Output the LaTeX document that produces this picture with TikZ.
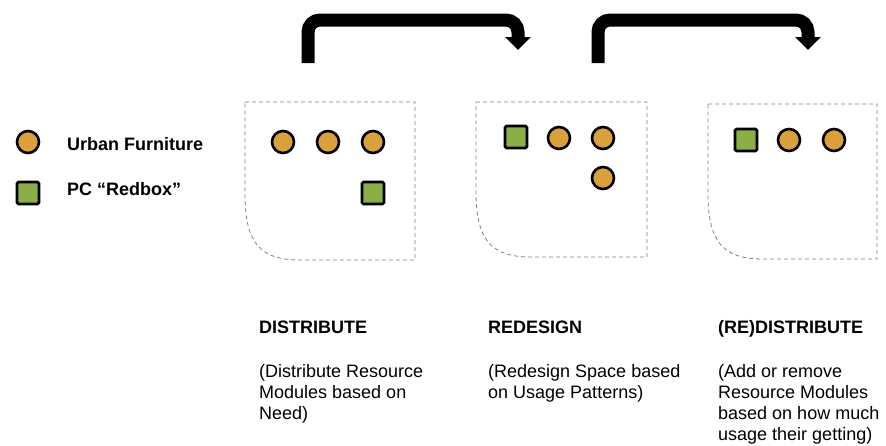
\documentclass[tikz,border=0pt]{standalone}
\usepackage{fontspec}
\setmainfont{Liberation Sans}
\usetikzlibrary{arrows.meta}
\definecolor{furniture}{HTML}{DAA03A}
\definecolor{redbox}{HTML}{8AAD44}

\begin{document}
\begin{tikzpicture}[x=1pt,y=-1pt,
  furn/.style={circle, draw=black, line width=2.6pt, fill=furniture, minimum size=22pt, inner sep=0pt},
  pcbox/.style={rectangle, draw=black, line width=2.6pt, fill=redbox, minimum size=22pt, inner sep=0pt, rounded corners=1.5pt},
  zone/.style={draw=gray, line width=0.8pt, dash pattern=on 4pt off 3pt},
  flow/.style={line width=13pt, rounded corners=12pt, -{Triangle[width=25pt,length=13pt]}},
  head/.style={anchor=base west, inner sep=0pt, font=\fontsize{18}{21}\selectfont\bfseries},
  note/.style={anchor=base west, inner sep=0pt, align=left, font=\fontsize{18}{21}\selectfont}]
            \useasboundingbox (0,0) rectangle (886,445);

            % Legend
            \node[furn] (keyfurn) at (28,142) {};
            \node[pcbox] (keybox) at (28,193) {};
            \node[head] (keyfurntxt) at (67,150) {Urban Furniture};
            \node[head] (keyboxtxt) at (67,195) {PC “Redbox”};

            % Dashed zones
            \draw[zone] (245,102) -- (415,102) -- (415,260) -- (300,260) .. controls (262,260) and (245,245) .. (245,195) -- cycle;
            \draw[zone] (476,102) -- (647,102) -- (647,257) -- (531,257) .. controls (493,257) and (476,242) .. (476,192) -- cycle;
            \draw[zone] (708,104) -- (877,104) -- (877,259) -- (763,259) .. controls (725,259) and (708,244) .. (708,194) -- cycle;

            % Zone 1: distribute
            \node[furn] (fa1) at (283,142) {};
            \node[furn] (fa2) at (328,142) {};
            \node[furn] (fa3) at (373,142) {};
            \node[pcbox] (pa1) at (373,193) {};

            % Zone 2: redesign
            \node[pcbox] (pb1) at (516,137) {};
            \node[furn] (fb1) at (559,138) {};
            \node[furn] (fb2) at (603,138) {};
            \node[furn] (fb3) at (603,178) {};

            % Zone 3: redistribute
            \node[pcbox] (pc1) at (746,140) {};
            \node[furn] (fc1) at (789,140) {};
            \node[furn] (fc2) at (834,140) {};

            % Arrows between the steps
            \coordinate (out1) at (308,63);
            \coordinate (in2) at (518,50);
            \coordinate (out2) at (598,63);
            \coordinate (in3) at (808,50);
            \draw[flow] (out1) -- (308,20) -| (in2);
            \draw[flow] (out2) -- (598,20) -| (in3);

            % Step labels (notes anchored on their last line)
            \node[head] (step1) at (259,333) {DISTRIBUTE};
            \node[head] (step2) at (488,333) {REDESIGN};
            \node[head] (step3) at (718,333) {(RE)DISTRIBUTE};
            \node[note] (note1) at (259,419) {(Distribute Resource\\Modules based on\\Need)};
            \node[note] (note2) at (488,398) {(Redesign Space based\\on Usage Patterns)};
            \node[note] (note3) at (718,440) {(Add or remove\\Resource Modules\\based on how much\\usage their getting)};
        \end{tikzpicture}
\end{document}
